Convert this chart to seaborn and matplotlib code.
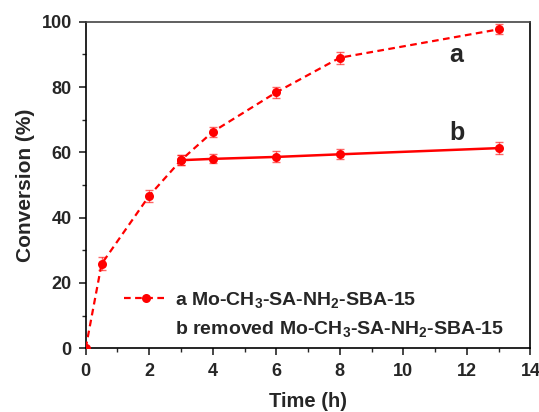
import matplotlib
matplotlib.use("Agg")
import matplotlib.pyplot as plt
import seaborn as sns
import numpy as np
import pandas as pd
from matplotlib.lines import Line2D
from matplotlib.ticker import MultipleLocator

time_a = [0, 0.5, 2, 3, 4, 6, 8, 13]
conv_a = [0, 25.8, 46.7, 57.6, 66.3, 78.4, 89.0, 97.7]
err_a = [0, 2.0, 1.8, 1.6, 1.6, 1.7, 1.8, 1.5]

time_b = [3, 4, 6, 8, 13]
conv_b = [57.6, 58.0, 58.6, 59.4, 61.3]
err_b = [1.6, 1.4, 1.7, 1.5, 1.8]

label_a = "a Mo-CH$_3$-SA-NH$_2$-SBA-15"
label_b = "b removed Mo-CH$_3$-SA-NH$_2$-SBA-15"

sns.set_style("ticks")
plt.rcParams["font.family"] = ["Liberation Sans", "DejaVu Sans"]
plt.rcParams["font.weight"] = "bold"
plt.rcParams["mathtext.fontset"] = "custom"
plt.rcParams["mathtext.rm"] = "Liberation Sans:bold"
plt.rcParams["mathtext.bf"] = "Liberation Sans:bold"
plt.rcParams["mathtext.default"] = "bf"

red = "#ff0000"
fig = plt.figure(figsize=(5.39, 4.12), dpi=100)
ax = fig.add_axes([0.159, 0.155, 0.825, 0.792])

df_a = pd.DataFrame({"t": time_a, "c": conv_a})
df_b = pd.DataFrame({"t": time_b, "c": conv_b})

sns.lineplot(data=df_a, x="t", y="c", ax=ax, color=red, linestyle=(0, (3, 2)),
             linewidth=1.6, marker="o", markersize=6.5, markeredgewidth=0, zorder=3)
sns.lineplot(data=df_b, x="t", y="c", ax=ax, color=red, linestyle="-",
             linewidth=1.8, marker="o", markersize=6.5, markeredgewidth=0, zorder=3)

ax.errorbar(time_a[1:], conv_a[1:], yerr=err_a[1:], fmt="none", ecolor=red,
            alpha=0.6, elinewidth=1, capsize=3, capthick=1, zorder=2)
ax.errorbar(time_b, conv_b, yerr=err_b, fmt="none", ecolor=red,
            alpha=0.6, elinewidth=1, capsize=3, capthick=1, zorder=2)

ax.set_xlim(0, 14)
ax.set_ylim(0, 100)
ax.xaxis.set_major_locator(MultipleLocator(2))
ax.xaxis.set_minor_locator(MultipleLocator(1))
ax.yaxis.set_major_locator(MultipleLocator(20))
ax.yaxis.set_minor_locator(MultipleLocator(10))
ax.tick_params(which="major", direction="out", length=5, width=1.2, labelsize=13,
               top=False, right=False)
ax.tick_params(axis="x", which="major", pad=6)
ax.tick_params(axis="y", which="major", pad=5)
ax.tick_params(which="minor", direction="out", length=3, width=1.0, top=False, right=False)
for lab in ax.get_xticklabels() + ax.get_yticklabels():
    lab.set_fontweight("bold")
for s in ax.spines.values():
    s.set_linewidth(1.2)
    s.set_color("black")
ax.spines["top"].set_color("#444444")

ax.set_xlabel("Time (h)", fontsize=14.5, fontweight="bold", labelpad=8)
ax.set_ylabel("Conversion (%)", fontsize=15, fontweight="bold", labelpad=5)

ax.text(11.65, 89.8, "a", fontsize=18, fontweight="bold", ha="center", va="center")
ax.text(11.7, 66.0, "b", fontsize=18, fontweight="bold", ha="center", va="center")

h_a = Line2D([], [], color=red, linestyle=(0, (3, 2)), linewidth=1.6, marker="o",
             markersize=6.5, markeredgewidth=0)
h_b = Line2D([], [], color="none", linestyle="none")
ax.legend([h_a, h_b], [label_a, label_b], loc="lower left", frameon=False,
          prop={"weight": "bold", "size": 14}, handlelength=2.2, handletextpad=0.4,
          labelspacing=0.45, borderaxespad=0, bbox_to_anchor=(0.069, 0.005))

fig.savefig("out.png", dpi=100)
